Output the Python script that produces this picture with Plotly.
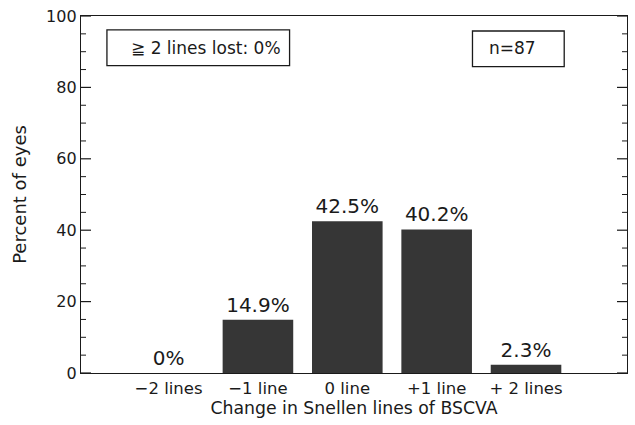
import plotly.graph_objects as go

# Change in best spectacle-corrected visual acuity (Snellen lines)
categories = ["\u22122 lines", "\u22121 line", "0 line", "+1 line", "+ 2 lines"]
percent_eyes = [0, 14.9, 42.5, 40.2, 2.3]
bar_labels = [f"{v:g}%" for v in percent_eyes]
y_ticks = [0, 20, 40, 60, 80, 100]
y_minor_ticks = [v for v in range(0, 101, 5) if v % 20]

FONT = "DejaVu Sans"
INK = "#1a1a1a"

fig = go.Figure(
    go.Bar(
        x=list(range(len(categories))),
        y=percent_eyes,
        text=bar_labels,
        textposition="outside",
        textfont=dict(family=FONT, size=20, color=INK),
        cliponaxis=False,
        width=0.79,
        marker=dict(color="#363636", line=dict(width=0)),
    )
)

fig.update_layout(
    width=635,
    height=425,
    margin=dict(l=81, r=7, t=14, b=52),
    paper_bgcolor="white",
    plot_bgcolor="white",
    showlegend=False,
    font=dict(family=FONT, color=INK),
)

fig.update_xaxes(
    range=[-0.98, 5.13],
    tickmode="array",
    tickvals=list(range(len(categories))),
    ticktext=categories,
    ticks="",
    showgrid=False,
    zeroline=False,
    showline=True,
    linecolor=INK,
    linewidth=1.3,
    mirror=True,
    tickfont=dict(size=16.5),
    title=dict(text="Change in Snellen lines of BSCVA", font=dict(size=17.3), standoff=2),
)

fig.update_yaxes(
    range=[0, 100],
    tickmode="array",
    tickvals=y_ticks,
    ticks="",
    showgrid=False,
    zeroline=False,
    showline=True,
    linecolor=INK,
    linewidth=1.3,
    mirror=True,
    tickfont=dict(size=16),
    title=dict(text="Percent of eyes", font=dict(size=18), standoff=14),
)

# Inward tick marks on both vertical frame edges (major every 20, minor every 5)
def add_ticks(values, length, width):
    for v in values:
        for side, direction in ((0, 1), (1, -1)):
            fig.add_shape(
                type="line", xref="paper", yref="y",
                xsizemode="pixel", xanchor=side,
                x0=0, x1=direction * length, y0=v, y1=v,
                line=dict(color=INK, width=width),
            )

add_ticks(y_ticks, 10, 1.2)
add_ticks(y_minor_ticks, 5, 1)

# Boxed annotations in the upper part of the plot
fig.add_shape(type="rect", xref="paper", yref="paper",
              x0=0.0475, x1=0.382, y0=0.861, y1=0.961,
              line=dict(color=INK, width=1.3), fillcolor="white")
fig.add_annotation(xref="paper", yref="paper", x=0.2294, y=0.911,
                   xanchor="center", yanchor="middle",
                   text="\u2267 2 lines lost: 0%", showarrow=False,
                   font=dict(family=FONT, size=17, color=INK))
fig.add_shape(type="rect", xref="paper", yref="paper",
              x0=0.717, x1=0.885, y0=0.858, y1=0.958,
              line=dict(color=INK, width=1.3), fillcolor="white")
fig.add_annotation(xref="paper", yref="paper", x=0.791, y=0.911,
                   xanchor="center", yanchor="middle",
                   text="n=87", showarrow=False,
                   font=dict(family=FONT, size=17, color=INK))

fig.write_html("out.html")
